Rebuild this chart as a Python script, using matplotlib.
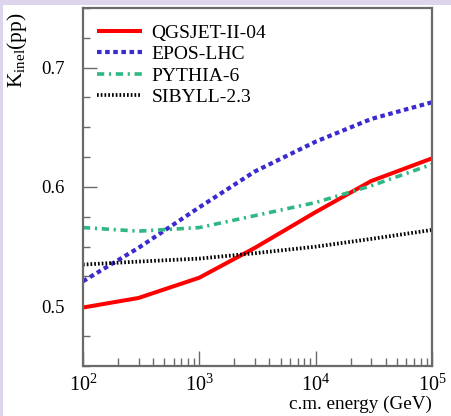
import math
import matplotlib
matplotlib.use("Agg")
import matplotlib.pyplot as plt
from matplotlib.ticker import FixedLocator, FuncFormatter, MultipleLocator, NullFormatter
from matplotlib.patches import Rectangle

plt.rcParams['font.family'] = ['Liberation Serif', 'DejaVu Serif']
plt.rcParams['mathtext.fontset'] = 'custom'
plt.rcParams['mathtext.rm'] = 'Liberation Serif'
plt.rcParams['mathtext.it'] = 'Liberation Serif:italic'

energy = [100, 300, 1000, 3000, 10000, 30000, 100000]
qgsjet = [0.499, 0.507, 0.524, 0.549, 0.579, 0.605, 0.624]
epos = [0.521, 0.549, 0.583, 0.613, 0.638, 0.657, 0.671]
pythia = [0.566, 0.563, 0.566, 0.576, 0.587, 0.601, 0.619]
sibyll = [0.535, 0.5375, 0.540, 0.5445, 0.550, 0.5565, 0.564]
labels = ["QGSJET-II-04", "EPOS-LHC", "PYTHIA-6", "SIBYLL-2.3"]
x_ticks = [1e2, 1e3, 1e4, 1e5]
y_ticks = [0.5, 0.6, 0.7]

W, H = 451, 416
fig = plt.figure(figsize=(W / 100, H / 100), dpi=100)
fig.patch.set_facecolor('white')
lav = '#ddd5ec'
fig.patches.append(Rectangle((0, 1 - 5 / H), 1, 5 / H, transform=fig.transFigure,
                             facecolor=lav, edgecolor='none', zorder=0))
fig.patches.append(Rectangle((0, 0), 3 / W, 1, transform=fig.transFigure,
                             facecolor=lav, edgecolor='none', zorder=0))

L, R, T, B = 83, 432, 8, 366
ax = fig.add_axes([L / W, 1 - B / H, (R - L) / W, (B - T) / H])

ax.plot(energy, qgsjet, color='#ff0000', lw=2.9, solid_capstyle='butt', label=labels[0])
ax.plot(energy, epos, color='#3b2bcf', lw=3.0, linestyle=(0, (1.1, 0.85)),
        dash_capstyle='butt', label=labels[1])
ax.plot(energy, pythia, color='#2fb784', lw=2.6, linestyle=(0, (2.0, 1.3, 0.6, 1.3)),
        dash_capstyle='butt', label=labels[2])
ax.plot(energy, sibyll, color='black', lw=2.7, linestyle=(0, (0.45, 0.55)),
        dash_capstyle='butt', label=labels[3])

ax.set_xscale('log')
ax.set_xlim(1e2, 1e5)
ax.set_ylim(0.45, 0.75)

ax.xaxis.set_major_locator(FixedLocator(x_ticks))
ax.xaxis.set_major_formatter(FuncFormatter(lambda v, p: r'$10^{%d}$' % round(math.log10(v))))
ax.xaxis.set_minor_formatter(NullFormatter())
ax.yaxis.set_major_locator(FixedLocator(y_ticks))
ax.yaxis.set_major_formatter(FuncFormatter(lambda v, p: '%.1f' % v))
ax.yaxis.set_minor_locator(MultipleLocator(0.025))

gray = '#6a6a6a'
for s in ax.spines.values():
    s.set_color(gray)
    s.set_linewidth(1.6)
ax.tick_params(which='both', direction='in', top=False, right=False, color=gray)
ax.tick_params(axis='y', which='major', length=10, width=1, pad=13, labelsize=13.5)
ax.tick_params(axis='y', which='minor', length=5, width=1)
ax.tick_params(axis='x', which='major', length=11, width=1, pad=6, labelsize=14.5)
ax.tick_params(axis='x', which='minor', length=6, width=1)

leg = ax.legend(loc='upper left', bbox_to_anchor=((97 - L) / (R - L), 1 - (24 - T) / (B - T)),
                frameon=False, fontsize=14, handlelength=2.3, handletextpad=0.5,
                labelspacing=0.2, borderpad=0, borderaxespad=0)

fig.text(17 / W, 1 - 12 / H, r'K$_{\mathregular{inel}}$(pp)', rotation=90, ha='center', va='top',
         fontsize=15.5)
fig.text(432 / W, 1 - 409 / H, 'c.m. energy (GeV)', ha='right', va='baseline', fontsize=13.8)

fig.savefig('out.png', dpi=100, facecolor=fig.get_facecolor())
